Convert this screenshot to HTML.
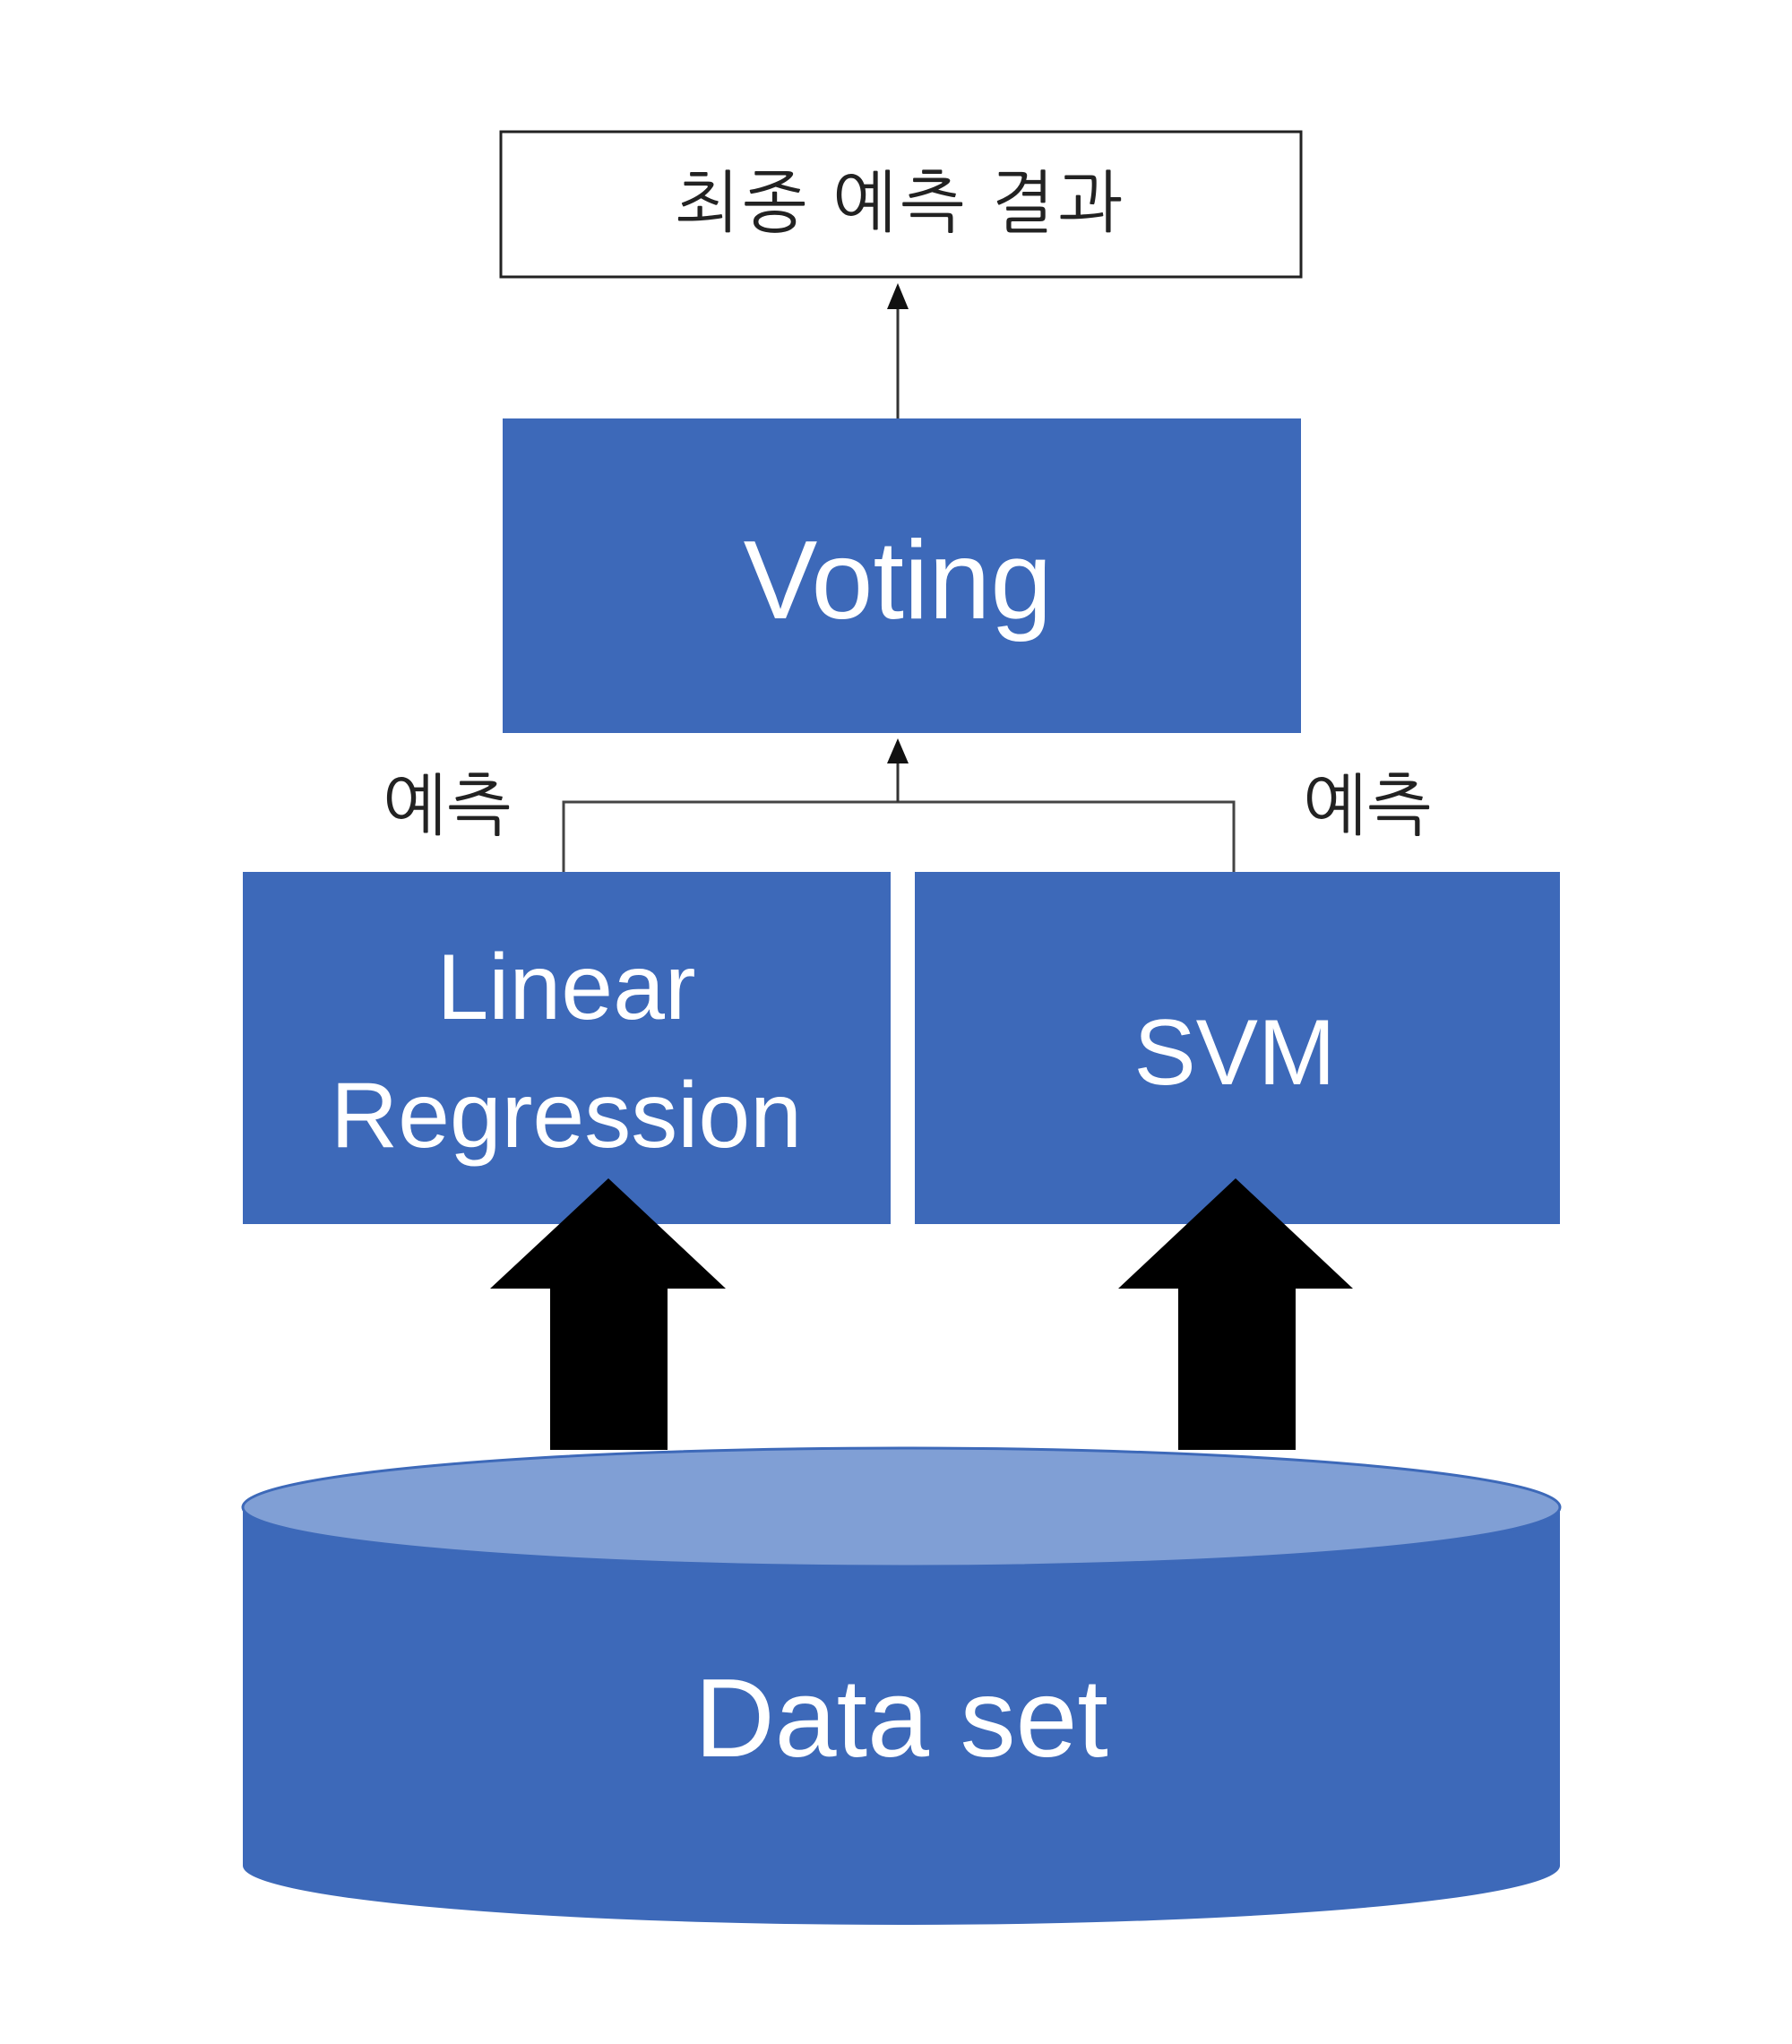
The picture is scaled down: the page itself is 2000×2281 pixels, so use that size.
<!DOCTYPE html>
<html><head><meta charset="utf-8"><style>
html,body{margin:0;padding:0;background:#fff;}
svg{display:block}
text{font-family:"Liberation Sans","NanumGothic","Noto Sans CJK KR",sans-serif;}
</style></head><body>
<svg width="2000" height="2281" viewBox="0 0 2000 2281" xmlns="http://www.w3.org/2000/svg">
<rect x="0" y="0" width="2000" height="2281" fill="#fff"/>
<!-- top result box -->
<rect x="559" y="147" width="893" height="162" fill="#fff" stroke="#222" stroke-width="3"/>
<text x="1005" y="252" font-size="76" text-anchor="middle" fill="#222" font-family="NanumGothic,'Noto Sans CJK KR',sans-serif" letter-spacing="4">최종 예측 결과</text>
<!-- arrow voting -> result -->
<line x1="1002" y1="469" x2="1002" y2="340" stroke="#333" stroke-width="3"/>
<polygon points="1002,316 990,345 1014,345" fill="#111"/>
<!-- voting -->
<rect x="561" y="467" width="891" height="351" fill="#3d69b9"/>
<text x="1002" y="690" font-size="124" text-anchor="middle" fill="#fff">Voting</text>
<!-- connector -->
<polyline points="629,973 629,895 1377,895 1377,973" fill="none" stroke="#444" stroke-width="3"/>
<line x1="1002" y1="895" x2="1002" y2="848" stroke="#333" stroke-width="3"/>
<polygon points="1002,824 990,852 1014,852" fill="#111"/>
<text x="499" y="925" font-size="76" text-anchor="middle" fill="#222" font-family="NanumGothic,'Noto Sans CJK KR',sans-serif">예측</text>
<text x="1526" y="925" font-size="76" text-anchor="middle" fill="#222" font-family="NanumGothic,'Noto Sans CJK KR',sans-serif">예측</text>
<!-- model boxes -->
<rect x="271" y="973" width="723" height="393" fill="#3d69b9"/>
<rect x="1021" y="973" width="720" height="393" fill="#3d69b9"/>
<text x="632" y="1137" font-size="104" text-anchor="middle" fill="#fff">Linear</text>
<text x="632" y="1280" font-size="104" text-anchor="middle" fill="#fff">Regression</text>
<text x="1378" y="1210" font-size="104" text-anchor="middle" fill="#fff">SVM</text>
<!-- cylinder -->
<path d="M271,1682 L271,2082 A735,66 0 0 0 1741,2082 L1741,1682 Z" fill="#3d69b9"/>
<ellipse cx="1006" cy="1682" rx="735" ry="66" fill="#809fd5" stroke="#3d69b9" stroke-width="3"/>
<text x="1006" y="1960" font-size="124" text-anchor="middle" fill="#fff">Data set</text>
<!-- big arrows -->
<polygon points="679,1315 810,1438 745,1438 745,1618 614,1618 614,1438 547,1438" fill="#000"/>
<polygon points="1379,1315 1510,1438 1446,1438 1446,1618 1315,1618 1315,1438 1248,1438" fill="#000"/>
</svg>
</body></html>
